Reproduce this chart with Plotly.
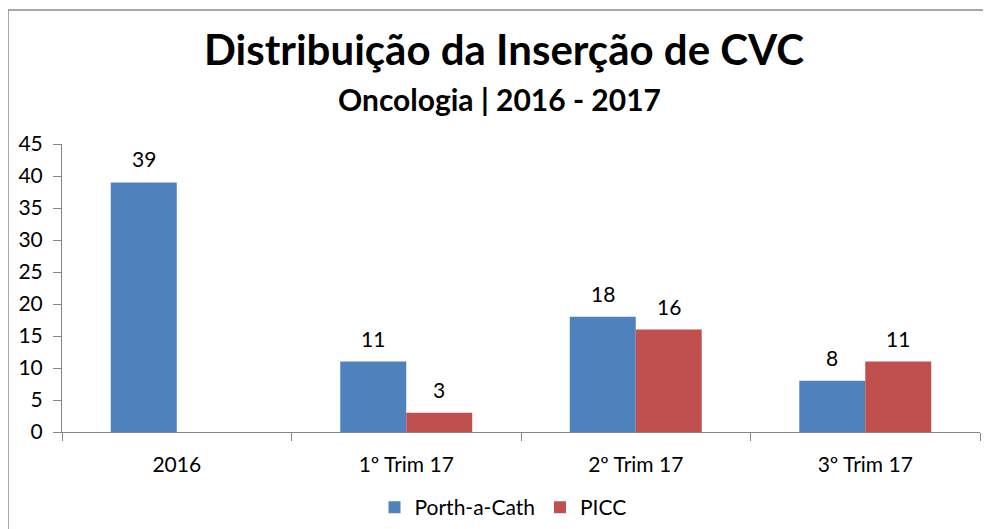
import plotly.graph_objects as go

categories = ["2016", "1º Trim 17", "2º Trim 17", "3º Trim 17"]
porth_a_cath = [39, 11, 18, 8]
picc = [None, 3, 16, 11]
y_ticks = [0, 5, 10, 15, 20, 25, 30, 35, 40, 45]

FONT = "Lato"
BLUE = "#4F81BD"
RED = "#C0504D"

OFF = 8                       # page body margin around the figure
W, H = 991 - OFF, 529 - OFF
L, T = 62 - OFF, 144 - OFF
R = W - (980 - OFF)
B = H - (432 - OFF)
pw, ph = W - L - R, H - T - B
BARGAP = 0.425
BAR_PX = pw / len(categories) * (1 - BARGAP) / 2

def px_x(p):
    return (p - OFF - L) / pw

def px_y(p):
    return (H - B - (p - OFF)) / ph

fig = go.Figure()
fig.add_bar(name="Porth-a-Cath", x=categories, y=porth_a_cath, marker_color=BLUE,
            marker_line_width=0)
fig.add_bar(name="PICC", x=categories, y=picc, marker_color=RED, marker_line_width=0)

# data labels above bars (x given as category index)
for series, shift in ((porth_a_cath, -BAR_PX / 2), (picc, BAR_PX / 2)):
    for i, v in enumerate(series):
        if v is None:
            continue
        fig.add_annotation(x=i, y=v, xref="x", yref="y", text=str(v), showarrow=False,
                           xanchor="center", yanchor="bottom", xshift=shift, yshift=9,
                           font=dict(size=21, family=FONT, color="#000"))

fig.update_layout(
    width=W, height=H,
    margin=dict(l=L, r=R, t=T, b=B, autoexpand=False),
    paper_bgcolor="white", plot_bgcolor="white",
    barmode="group", bargap=BARGAP, bargroupgap=0,
    font=dict(family=FONT, color="#000"),
    title=dict(text="<b>Distribuição da Inserção de CVC</b>", x=(504 - OFF) / W, xanchor="center",
               y=1 - (50 - OFF) / H, yanchor="middle", font=dict(size=42, family=FONT)),
    showlegend=True,
    legend=dict(orientation="h", x=px_x(503), xanchor="center", y=px_y(487), yanchor="top",
                font=dict(size=21, family=FONT), traceorder="normal"),
)
fig.add_annotation(text="<b>Oncologia | 2016 - 2017</b>", xref="paper", yref="paper",
                   x=px_x(499), y=px_y(99), xanchor="center", yanchor="middle",
                   showarrow=False, font=dict(size=30, family=FONT))
fig.update_xaxes(type="category", range=[-0.5, len(categories) - 0.5],
                 showline=True, linecolor="#868686", linewidth=1, automargin=False,
                 ticks="outside", ticklen=8, tickcolor="#868686", tickson="boundaries",
                 tickfont=dict(size=21, family=FONT), ticklabelstandoff=14, showgrid=False)
fig.update_yaxes(range=[0, 45], tickvals=y_ticks, showline=True, linecolor="#868686", linewidth=1,
                 automargin=False,
                 ticks="outside", ticklen=8, tickcolor="#868686", showgrid=False, zeroline=False,
                 tickfont=dict(size=21, family=FONT), ticklabelstandoff=6)
fig.add_shape(type="rect", xref="paper", yref="paper",
              x0=px_x(8), x1=px_x(1005), y0=px_y(545), y1=px_y(10),
              line=dict(color="#8c8c8c", width=1.5), fillcolor="rgba(0,0,0,0)", layer="below")

fig.write_html("out.html")
